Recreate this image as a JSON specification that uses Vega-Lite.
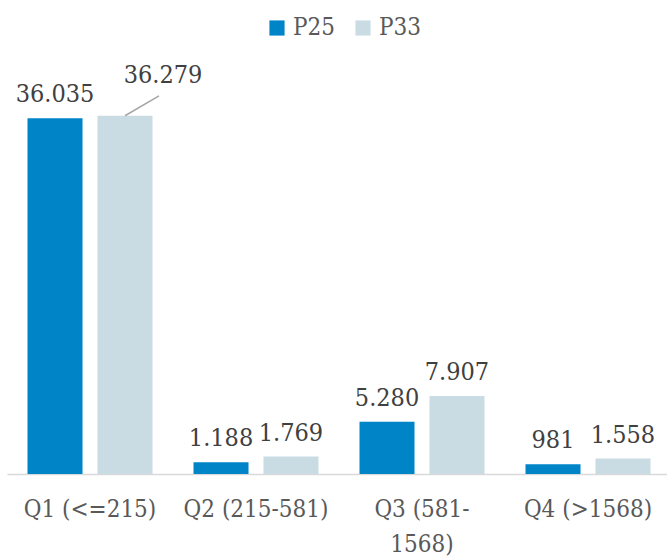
{
  "$schema": "https://vega.github.io/schema/vega-lite/v6.json",
  "width": 664,
  "height": 395,
  "autosize": {"type": "none"},
  "padding": {"left": 7, "top": 79, "right": 0, "bottom": 83},
  "config": {
    "view": {"stroke": null},
    "font": "DejaVu Serif Condensed",
    "locale": {"number": {"decimal": ",", "thousands": ".", "grouping": [3], "currency": ["", ""]}}
  },
  "data": {
    "values": [
      {"cat": "Q1 (<=215)", "series": "P25", "value": 36035},
      {"cat": "Q1 (<=215)", "series": "P33", "value": 36279},
      {"cat": "Q2 (215-581)", "series": "P25", "value": 1188},
      {"cat": "Q2 (215-581)", "series": "P33", "value": 1769},
      {"cat": "Q3 (581-1568)", "series": "P25", "value": 5280},
      {"cat": "Q3 (581-1568)", "series": "P33", "value": 7907},
      {"cat": "Q4 (>1568)", "series": "P25", "value": 981},
      {"cat": "Q4 (>1568)", "series": "P33", "value": 1558}
    ]
  },
  "encoding": {
    "x": {
      "field": "cat", "type": "nominal", "sort": null,
      "scale": {"paddingInner": 0, "paddingOuter": 0},
      "axis": {
        "title": null, "labelAngle": 0, "ticks": false,
        "domainColor": "#d9d9d9", "domainWidth": 1.5,
        "labelFontSize": 24, "labelColor": "#595959", "labelPadding": 23,
        "labelLimit": 200, "labelLineHeight": 35,
        "labelExpr": "datum.label == 'Q3 (581-1568)' ? ['Q3 (581-', '1568)'] : datum.label"
      }
    },
    "xOffset": {
      "field": "series", "type": "nominal",
      "scale": {"paddingInner": 0.214, "paddingOuter": 0.293}
    },
    "y": {
      "field": "value", "type": "quantitative",
      "scale": {"domain": [0, 40000]},
      "axis": null
    }
  },
  "layer": [
    {
      "mark": {"type": "bar"},
      "encoding": {
        "color": {
          "field": "series", "type": "nominal",
          "scale": {"domain": ["P25", "P33"], "range": ["#0084C8", "#C9DCE3"]},
          "legend": {
            "title": null, "orient": "none", "direction": "horizontal",
            "legendX": 258, "legendY": -63,
            "symbolType": "square", "symbolSize": 230, "symbolStrokeWidth": 0,
            "labelFontSize": 24, "labelColor": "#595959", "columnPadding": 16
          }
        }
      }
    },
    {
      "transform": [{"filter": "!(datum.cat == 'Q1 (<=215)' && datum.series == 'P33')"}],
      "mark": {"type": "text", "baseline": "bottom", "dy": -11, "fontSize": 25, "color": "#404040"},
      "encoding": {"text": {"field": "value", "type": "quantitative", "format": ",d"}}
    },
    {
      "transform": [{"filter": "datum.cat == 'Q1 (<=215)' && datum.series == 'P33'"}],
      "mark": {"type": "text", "baseline": "bottom", "dx": 38, "dy": -28, "fontSize": 25, "color": "#404040"},
      "encoding": {"text": {"field": "value", "type": "quantitative", "format": ",d"}}
    },
    {
      "transform": [{"filter": "datum.cat == 'Q1 (<=215)' && datum.series == 'P33'"}],
      "mark": {"type": "rule", "color": "#a6a6a6", "strokeWidth": 1.5, "x2Offset": 69},
      "encoding": {"x2": {"field": "cat"}, "y2": {"datum": 38300}}
    }
  ]
}
